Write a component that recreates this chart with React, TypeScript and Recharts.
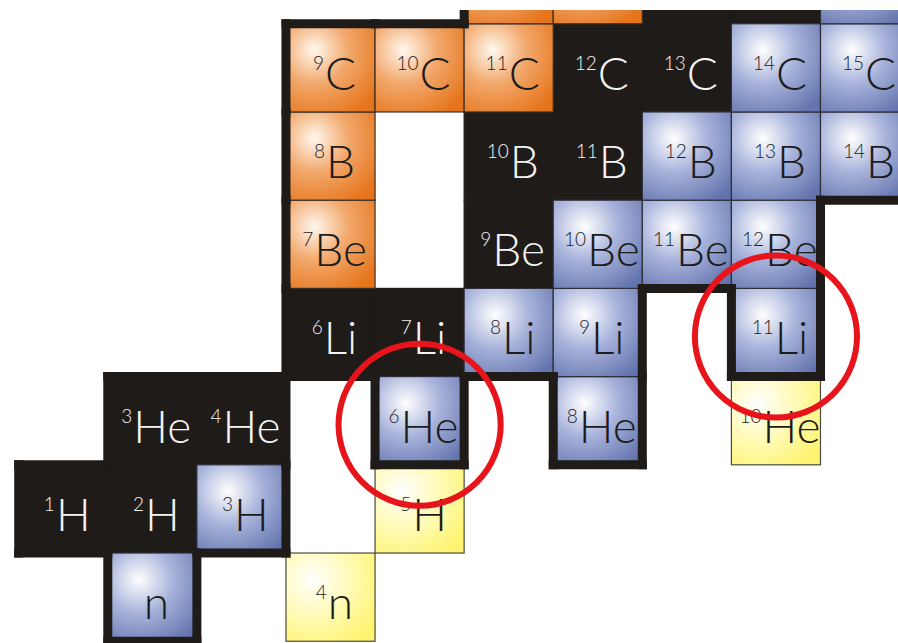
import { Scatter, ScatterChart, XAxis, YAxis } from "recharts";

type Nuclide = { n: number; z: number; mass: string; sym: string };

// [neutron count, proton count, mass label, symbol]
type Row = [number, number, string, string];

const STABLE_ROWS: Row[] = [
  [0, 1, "1", "H"], [1, 1, "2", "H"], [1, 2, "3", "He"], [2, 2, "4", "He"],
  [3, 3, "6", "Li"], [4, 3, "7", "Li"], [5, 4, "9", "Be"], [5, 5, "10", "B"],
  [6, 5, "11", "B"], [6, 6, "12", "C"], [7, 6, "13", "C"], [7, 7, "14", "N"],
  [8, 7, "15", "N"],
];

const BETA_PLUS_ROWS: Row[] = [
  [3, 4, "7", "Be"], [3, 5, "8", "B"], [3, 6, "9", "C"], [4, 6, "10", "C"],
  [5, 6, "11", "C"], [5, 7, "12", "N"], [6, 7, "13", "N"],
];

const BETA_MINUS_ROWS: Row[] = [
  [1, 0, "", "n"], [2, 1, "3", "H"], [4, 2, "6", "He"], [6, 2, "8", "He"],
  [5, 3, "8", "Li"], [6, 3, "9", "Li"], [8, 3, "11", "Li"], [6, 4, "10", "Be"],
  [7, 4, "11", "Be"], [8, 4, "12", "Be"], [7, 5, "12", "B"], [8, 5, "13", "B"],
  [9, 5, "14", "B"], [8, 6, "14", "C"], [9, 6, "15", "C"], [9, 7, "16", "N"],
];

const UNBOUND_ROWS: Row[] = [
  [3, 0, "4", "n"], [4, 1, "5", "H"], [8, 2, "10", "He"],
];

// unbound gaps inside the bound region (no thick outline around them)
const HOLE_ROWS: Row[] = [[4, 4, "8", "Be"], [4, 5, "9", "B"]];

const HIGHLIGHT_ROWS: Row[] = [[4, 2, "6", "He"], [8, 3, "11", "Li"]];

const toNuclides = (rows: Row[]): Nuclide[] =>
  rows.map(([n, z, mass, sym]) => ({ n, z, mass, sym }));

const stable = toNuclides(STABLE_ROWS);
const betaPlus = toNuclides(BETA_PLUS_ROWS);
const betaMinus = toNuclides(BETA_MINUS_ROWS);
const unbound = toNuclides(UNBOUND_ROWS);
const highlights = toNuclides(HIGHLIGHT_ROWS);
const bound = [...stable, ...betaPlus, ...betaMinus];

const key = (n: number, z: number) => `${n},${z}`;
const boundKeys = new Set(bound.map((d) => key(d.n, d.z)));
const holeKeys = new Set(HOLE_ROWS.map(([n, z]) => key(n, z)));

const WIDTH = 898;
const HEIGHT = 643;
const TOP = 10;
const N_DOMAIN: [number, number] = [-0.71, 9.37];
const Z_DOMAIN: [number, number] = [-0.52, 6.656];
const CELL_W = WIDTH / (N_DOMAIN[1] - N_DOMAIN[0]);
const CELL_H = (HEIGHT - TOP) / (Z_DOMAIN[1] - Z_DOMAIN[0]);

const DARK = "#1f1b19";
const FONT = "Lato, Roboto, sans-serif";

function makeCell(fill: string, stroke: string, textColor: string) {
  return function CellShape(props: any) {
    const { cx, cy, payload } = props;
    const d = payload as Nuclide;
    // rows cut by the top edge only show their colour, not the label
    const showLabel = cy - CELL_H / 2 >= TOP - 2;
    return (
      <g>
        <rect
          x={cx - CELL_W / 2}
          y={cy - CELL_H / 2}
          width={CELL_W}
          height={CELL_H}
          fill={fill}
          stroke={stroke}
          strokeWidth={1.2}
        />
        {showLabel && (
          <text
            x={cx + 4}
            y={cy + 22}
            textAnchor="middle"
            fill={textColor}
            fontFamily={FONT}
            fontWeight={300}
          >
            {d.mass && (
              <tspan fontSize={19} dy={-20}>
                {d.mass}
              </tspan>
            )}
            <tspan fontSize={46} dy={d.mass ? 20 : 0} dx={d.mass ? 1 : 0}>
              {d.sym}
            </tspan>
          </text>
        )}
      </g>
    );
  };
}

const StableCell = makeCell(DARK, DARK, "#f4f4f4");
const PlusCell = makeCell("url(#gradPlus)", "#3a2f28", "#1c1c1c");
const MinusCell = makeCell("url(#gradMinus)", "#2e2f3a", "#1c1c1c");
const UnboundCell = makeCell("url(#gradUnbound)", "#4a4a40", "#1c1c1c");

function OutlineShape(props: any) {
  const { cx, cy, payload } = props;
  const d = payload as Nuclide;
  const open = (dn: number, dz: number) => {
    const k = key(d.n + dn, d.z + dz);
    return !boundKeys.has(k) && !holeKeys.has(k);
  };
  const l = cx - CELL_W / 2;
  const r = cx + CELL_W / 2;
  const t = cy - CELL_H / 2;
  const b = cy + CELL_H / 2;
  const segs: [number, number, number, number][] = [];
  if (open(-1, 0)) segs.push([l, t, l, b]);
  if (open(1, 0)) segs.push([r, t, r, b]);
  if (open(0, 1)) segs.push([l, t, r, t]);
  if (open(0, -1)) segs.push([l, b, r, b]);
  return (
    <g>
      {segs.map(([x1, y1, x2, y2], i) => (
        <line
          key={i}
          x1={x1}
          y1={y1}
          x2={x2}
          y2={y2}
          stroke={DARK}
          strokeWidth={9}
          strokeLinecap="square"
        />
      ))}
    </g>
  );
}

function RingShape(props: any) {
  const { cx, cy } = props;
  return (
    <circle cx={cx} cy={cy + 4} r={CELL_W * 0.91} fill="none" stroke="#e8141c" strokeWidth={6} />
  );
}

export default function App() {
  return (
    <div style={{ position: "absolute", left: 0, top: 0, width: WIDTH, height: HEIGHT, background: "#fff" }}>
      <ScatterChart width={WIDTH} height={HEIGHT} margin={{ top: TOP, right: 0, bottom: 0, left: 0 }}>
        <defs>
          <radialGradient id="gradPlus" cx="0.32" cy="0.3" r="0.85" fx="0.32" fy="0.3">
            <stop offset="0" stopColor="#fff8ee" />
            <stop offset="0.45" stopColor="#f2a86c" />
            <stop offset="1" stopColor="#e5741a" />
          </radialGradient>
          <radialGradient id="gradMinus" cx="0.35" cy="0.3" r="0.85" fx="0.35" fy="0.3">
            <stop offset="0" stopColor="#ffffff" />
            <stop offset="0.45" stopColor="#a8b3db" />
            <stop offset="1" stopColor="#6273ad" />
          </radialGradient>
          <radialGradient id="gradUnbound" cx="0.3" cy="0.3" r="0.85" fx="0.3" fy="0.3">
            <stop offset="0" stopColor="#ffffff" />
            <stop offset="0.45" stopColor="#fffbbd" />
            <stop offset="1" stopColor="#fff470" />
          </radialGradient>
        </defs>
        <XAxis type="number" dataKey="n" domain={N_DOMAIN} allowDataOverflow hide />
        <YAxis type="number" dataKey="z" domain={Z_DOMAIN} allowDataOverflow hide />
        <Scatter data={stable} shape={StableCell} isAnimationActive={false} />
        <Scatter data={betaPlus} shape={PlusCell} isAnimationActive={false} />
        <Scatter data={betaMinus} shape={MinusCell} isAnimationActive={false} />
        <Scatter data={unbound} shape={UnboundCell} isAnimationActive={false} />
        <Scatter data={bound} shape={OutlineShape} isAnimationActive={false} />
        <Scatter data={highlights} shape={RingShape} isAnimationActive={false} />
      </ScatterChart>
    </div>
  );
}
